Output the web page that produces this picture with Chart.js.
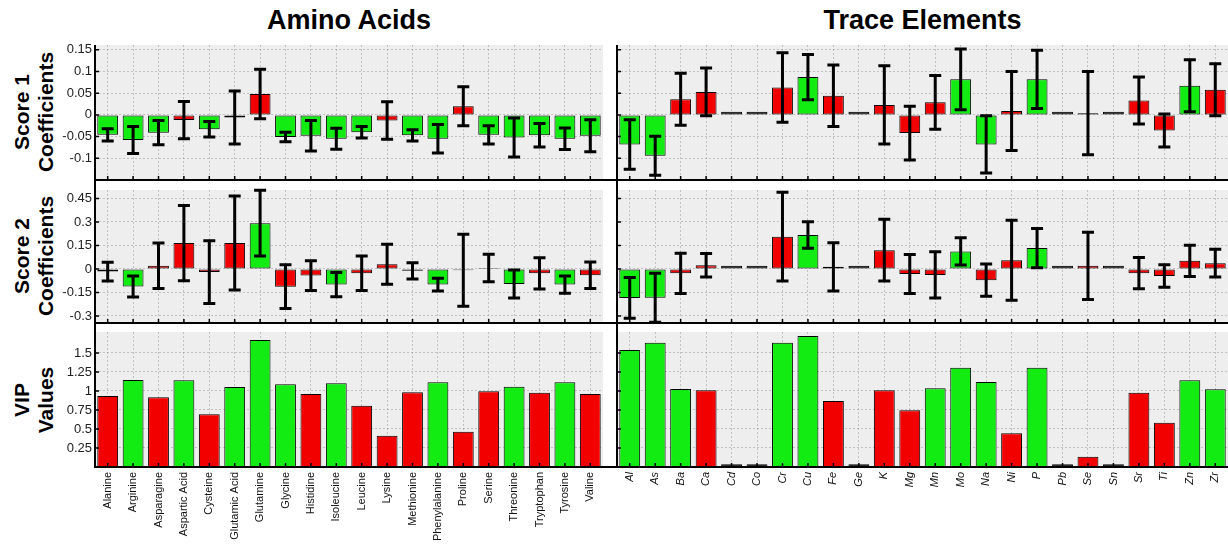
<!DOCTYPE html>
<html>
<head>
<meta charset="utf-8">
<title>Score coefficients and VIP values</title>
<script src="https://cdn.jsdelivr.net/npm/chart.js"></script>
<style>
  body { margin: 0; width: 1228px; height: 550px; overflow: hidden; background: #fff; position: relative;
         font-family: "Liberation Sans", Arial, sans-serif; }
  canvas { position: absolute; }
  .title { position: absolute; top: 5px; font-weight: bold; font-size: 27px; text-align: center; }
  .ylab { position: absolute; width: 170px; height: 48px; text-align: center; transform: rotate(-90deg);
          font-weight: bold; font-size: 21px; line-height: 24px; white-space: pre; }
  .rule { position: absolute; background: #000; }
</style>
</head>
<body>
<div class="title" style="left:95px;width:508px">Amino Acids</div>
<div class="title" style="left:617px;width:611px">Trace Elements</div>
<div class="ylab" style="left:-51px;top:88px">Score 1
Coefficients</div>
<div class="ylab" style="left:-51px;top:232px">Score 2
Coefficients</div>
<div class="ylab" style="left:-51px;top:376px">VIP
Values</div>

<canvas id="aa1" width="570" height="159" style="left:40px;top:33px"></canvas>
<canvas id="aa2" width="570" height="157" style="left:40px;top:178px"></canvas>
<canvas id="aa3" width="570" height="230" style="left:40px;top:320px"></canvas>
<canvas id="te1" width="621" height="159" style="left:617px;top:33px"></canvas>
<canvas id="te2" width="621" height="157" style="left:617px;top:178px"></canvas>
<canvas id="te3" width="621" height="230" style="left:617px;top:320px"></canvas>

<div class="rule" style="left:94px;top:45px;width:2px;height:423px"></div>
<div class="rule" style="left:616px;top:45px;width:2px;height:423px"></div>
<div class="rule" style="left:94px;top:179px;width:1134px;height:2px"></div>
<div class="rule" style="left:94px;top:322px;width:1134px;height:2px"></div>
<div class="rule" style="left:94px;top:466px;width:1134px;height:2px"></div>

<script>
// categories
const aminoAcids = ["Alanine", "Arginine", "Asparagine", "Aspartic Acid", "Cysteine", "Glutamic Acid",
  "Glutamine", "Glycine", "Histidine", "Isoleucine", "Leucine", "Lysine", "Methionine", "Phenylalanine",
  "Proline", "Serine", "Threonine", "Tryptophan", "Tyrosine", "Valine"];
const elements = ["Al", "As", "Ba", "Ca", "Cd", "Co", "Cr", "Cu", "Fe", "Ge", "K", "Mg", "Mn", "Mo",
  "Na", "Ni", "P", "Pb", "Se", "Sn", "Sr", "Ti", "Zn", "Zr"];

// amino acids: score 1, score 2, VIP  (G = green, R = red group)
const aaScore1 = [-0.046, -0.058, -0.041, -0.012, -0.033, -0.006, 0.048, -0.051, -0.048, -0.055,
  -0.04, -0.013, -0.047, -0.055, 0.02, -0.046, -0.052, -0.047, -0.055, -0.048];
const aaScore1Err = [0.014, 0.031, 0.028, 0.043, 0.018, 0.061, 0.057, 0.011, 0.035, 0.024,
  0.013, 0.043, 0.013, 0.033, 0.045, 0.021, 0.045, 0.027, 0.025, 0.037];
const aaScore1Group = ["G", "G", "G", "R", "G", "R", "R", "G", "G", "G", "G", "R", "G", "G", "R", "G", "G", "G", "G", "G"];

const aaScore2 = [-0.017, -0.112, 0.021, 0.165, -0.02, 0.165, 0.292, -0.113, -0.042, -0.1,
  -0.028, 0.03, -0.012, -0.1, -0.008, 0.006, -0.096, -0.028, -0.1, -0.04];
const aaScore2Err = [0.06, 0.067, 0.145, 0.24, 0.2, 0.3, 0.21, 0.14, 0.095, 0.077,
  0.11, 0.128, 0.052, 0.04, 0.23, 0.088, 0.09, 0.1, 0.055, 0.085];
const aaScore2Group = ["R", "G", "R", "R", "R", "R", "G", "R", "R", "G", "R", "R", "R", "G", "R", "R", "G", "R", "G", "R"];

const aaVip = [0.934, 1.145, 0.917, 1.14, 0.693, 1.053, 1.671, 1.088, 0.96, 1.101,
  0.807, 0.412, 0.982, 1.114, 0.465, 0.996, 1.057, 0.978, 1.114, 0.96];
const aaVipGroup = ["R", "G", "R", "G", "R", "G", "G", "G", "R", "G", "R", "R", "R", "G", "R", "R", "G", "R", "G", "R"];

// trace elements (Z = near-zero coefficient)
const teScore1 = [-0.068, -0.094, 0.036, 0.053, 0.007, 0.007, 0.063, 0.087, 0.044, 0.007, 0.023, -0.042,
  0.029, 0.082, -0.068, 0.009, 0.082, 0.007, 0.004, 0.007, 0.033, -0.036, 0.067, 0.058];
const teScore1Err = [0.057, 0.045, 0.06, 0.055, 0, 0, 0.08, 0.052, 0.071, 0, 0.09, 0.062,
  0.062, 0.07, 0.066, 0.091, 0.067, 0, 0.096, 0, 0.054, 0.038, 0.06, 0.06];
const teScore1Group = ["G", "G", "R", "R", "Z", "Z", "R", "G", "R", "Z", "R", "R",
  "R", "G", "G", "R", "G", "Z", "R", "Z", "R", "R", "G", "R"];

const teScore2 = [-0.185, -0.184, -0.028, 0.024, 0.02, 0.02, 0.206, 0.217, 0.014, 0.02, 0.12, -0.032,
  -0.038, 0.112, -0.072, 0.056, 0.133, 0.02, 0.02, 0.02, -0.027, -0.045, 0.052, 0.037];
const teScore2Err = [0.13, 0.156, 0.128, 0.075, 0, 0, 0.283, 0.085, 0.154, 0, 0.197, 0.125,
  0.148, 0.087, 0.103, 0.255, 0.125, 0, 0.215, 0, 0.1, 0.072, 0.1, 0.088];
const teScore2Group = ["G", "G", "R", "R", "Z", "Z", "R", "G", "R", "Z", "R", "R",
  "R", "G", "R", "R", "G", "Z", "R", "Z", "R", "R", "R", "R"];

const teVip = [1.54, 1.636, 1.026, 1.009, 0.035, 0.035, 1.636, 1.724, 0.868, 0.035, 1.009, 0.746,
  1.035, 1.307, 1.118, 0.443, 1.307, 0.035, 0.136, 0.035, 0.978, 0.583, 1.14, 1.022];
const teVipGroup = ["G", "G", "G", "R", "Z", "Z", "G", "G", "R", "Z", "R", "R",
  "G", "G", "G", "R", "G", "Z", "R", "Z", "R", "R", "G", "G"];

// axis ranges and tick labels
const score1Range = [-0.15, 0.161];
const score1Ticks = [-0.1, -0.05, 0, 0.05, 0.1, 0.15];
const score2Range = [-0.345, 0.504];
const score2Ticks = [-0.3, -0.15, 0, 0.15, 0.3, 0.45];
const vipRange = [0, 1.776];
const vipTicks = [0.25, 0.5, 0.75, 1, 1.25, 1.5];

const groupColor = { G: "#12ec12", R: "#f20000", Z: "#000000" };
const gridColor = "rgba(120,120,120,0.38)";

// grey plot background, error bars and inward tick marks
const panelPlugin = {
  id: "panel",
  beforeDraw(chart) {
    const a = chart.chartArea, ctx = chart.ctx;
    ctx.save();
    ctx.fillStyle = "#eeeeee";
    ctx.fillRect(a.left, a.top, a.right - a.left, a.bottom - a.top);
    ctx.restore();
  },
  afterDatasetsDraw(chart) {
    const ds = chart.data.datasets[0];
    if (!ds.errors) return;
    const ctx = chart.ctx, y = chart.scales.y, meta = chart.getDatasetMeta(0);
    ctx.save();
    ctx.strokeStyle = "#000";
    ctx.lineWidth = 3;
    meta.data.forEach((bar, i) => {
      const e = ds.errors[i];
      if (!e) return;
      const v = ds.data[i];
      const hi = y.getPixelForValue(v + e), lo = y.getPixelForValue(v - e);
      ctx.beginPath();
      ctx.moveTo(bar.x, hi); ctx.lineTo(bar.x, lo);
      ctx.moveTo(bar.x - 6, hi); ctx.lineTo(bar.x + 6, hi);
      ctx.moveTo(bar.x - 6, lo); ctx.lineTo(bar.x + 6, lo);
      ctx.stroke();
    });
    ctx.restore();
  },
  afterDraw(chart) {
    const ctx = chart.ctx, a = chart.chartArea, y = chart.scales.y;
    ctx.save();
    ctx.strokeStyle = "#000";
    ctx.lineWidth = 1.5;
    ctx.beginPath();
    chart.getDatasetMeta(0).data.forEach(bar => {
      ctx.moveTo(bar.x, a.bottom); ctx.lineTo(bar.x, a.bottom - 4);
    });
    y.ticks.forEach(t => {
      const p = y.getPixelForValue(t.value);
      ctx.moveTo(a.left, p); ctx.lineTo(a.left + 4, p);
    });
    ctx.stroke();
    ctx.restore();
  }
};

function makePanel(id, labels, values, errors, groups, range, ticks, opts) {
  const showLabels = opts.xLabels;
  new Chart(document.getElementById(id), {
    type: "bar",
    data: {
      labels: labels,
      datasets: [{
        data: values,
        errors: errors,
        backgroundColor: groups.map(g => groupColor[g]),
        borderColor: "#000",
        borderWidth: 1,
        borderSkipped: false,
        barPercentage: 0.82,
        categoryPercentage: 1
      }]
    },
    options: {
      responsive: false,
      animation: false,
      layout: { padding: { top: 12, bottom: showLabels ? 0 : 12, left: 0, right: opts.padRight } },
      plugins: { legend: { display: false }, tooltip: { enabled: false } },
      scales: {
        x: {
          offset: true,
          grid: { offset: false, color: gridColor, drawTicks: false },
          border: { display: false, dash: [2, 2] },
          ticks: {
            display: showLabels,
            autoSkip: false,
            minRotation: 90,
            maxRotation: 90,
            padding: 5,
            color: "#111",
            font: { family: "Liberation Sans", size: 11, style: opts.italic ? "italic" : "normal" }
          },
          afterFit: s => { s.height = showLabels ? 83 : 0; }
        },
        y: {
          min: range[0],
          max: range[1],
          afterBuildTicks: s => { s.ticks = ticks.map(v => ({ value: v })); },
          grid: { color: gridColor, drawTicks: false },
          border: { display: false, dash: [2, 2] },
          ticks: {
            display: opts.yLabels,
            padding: 3,
            color: "#222",
            font: { family: "Liberation Sans", size: 13 },
            callback: v => String(v)
          },
          afterFit: s => { s.width = opts.yLabels ? 55 : 0; }
        }
      }
    },
    plugins: [panelPlugin]
  });
}

const leftOpts = { yLabels: true, padRight: 7 };
const rightOpts = { yLabels: false, padRight: 10 };

makePanel("aa1", aminoAcids, aaScore1, aaScore1Err, aaScore1Group, score1Range, score1Ticks, { ...leftOpts, xLabels: false });
makePanel("aa2", aminoAcids, aaScore2, aaScore2Err, aaScore2Group, score2Range, score2Ticks, { ...leftOpts, xLabels: false });
makePanel("aa3", aminoAcids, aaVip, null, aaVipGroup, vipRange, vipTicks, { ...leftOpts, xLabels: true });
makePanel("te1", elements, teScore1, teScore1Err, teScore1Group, score1Range, score1Ticks, { ...rightOpts, xLabels: false });
makePanel("te2", elements, teScore2, teScore2Err, teScore2Group, score2Range, score2Ticks, { ...rightOpts, xLabels: false });
makePanel("te3", elements, teVip, null, teVipGroup, vipRange, vipTicks, { ...rightOpts, xLabels: true, italic: true });
</script>
</body>
</html>
